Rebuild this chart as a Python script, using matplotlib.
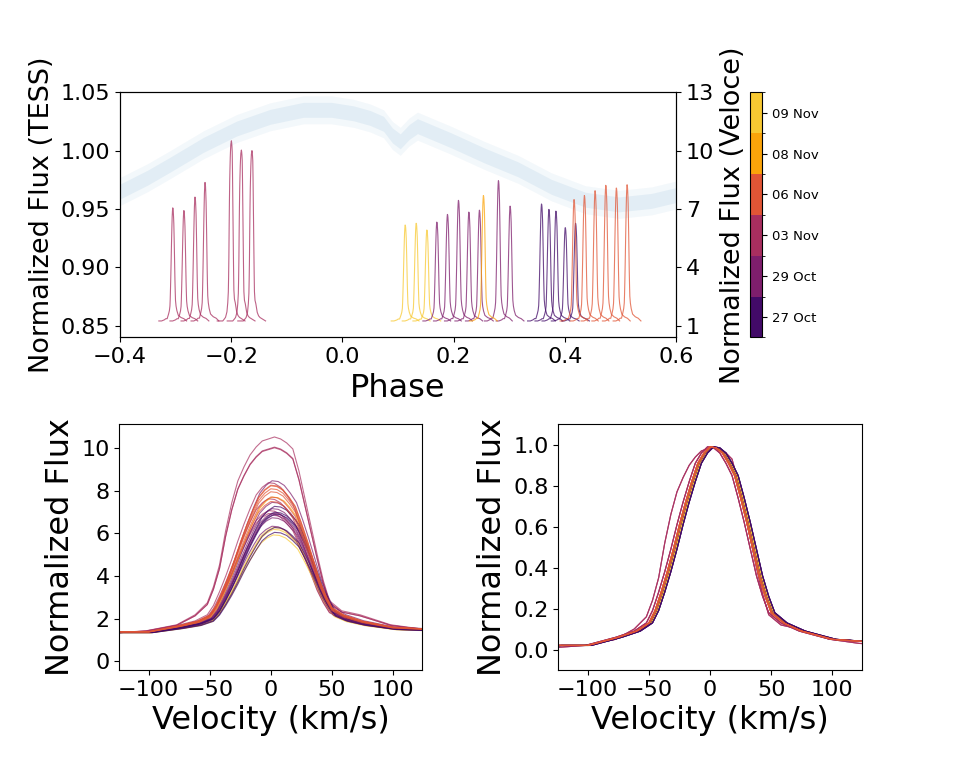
"""
TESS light curve + Veloce line profiles, phased, with date colour bar.
"""

import matplotlib

matplotlib.use("Agg")
import matplotlib.pyplot as plt
import numpy as np
from matplotlib.colors import BoundaryNorm, ListedColormap
from matplotlib.cm import ScalarMappable

# --- TESS light curve (trend + scatter) ---
tess_phase = [-0.40, -0.35, -0.31, -0.25, -0.19, -0.13, -0.07, -0.02, 0.02,
              0.05, 0.074, 0.09, 0.104, 0.12, 0.135, 0.16, 0.195, 0.255,
              0.316, 0.376, 0.437, 0.497, 0.556, 0.60]
tess_flux = [0.965, 0.977, 0.988, 1.005, 1.019, 1.029, 1.035, 1.035, 1.032,
             1.028, 1.023, 1.013, 1.008, 1.016, 1.021, 1.016, 1.009, 0.996,
             0.984, 0.969, 0.958, 0.954, 0.957, 0.962]
tess_scatter = 0.008

# --- observing dates (colour bar) ---
date_labels = ["27 Oct", "29 Oct", "03 Nov", "06 Nov", "08 Nov", "09 Nov"]
date_colors = ["#420a68", "#7e1e6c", "#a82e5f", "#e15535", "#fba40a", "#f8c932"]
date_vshift = [3, 1, -2, 0, 1, 2]  # km/s, rough line-centre offset per night

# --- individual spectra: phase, peak flux, night index ---
spec_phase = [-0.305, -0.285, -0.265, -0.247, -0.200, -0.182, -0.163,
              0.1126, 0.1324, 0.1516,
              0.1696, 0.1887, 0.2085, 0.2272, 0.2462, 0.2804, 0.3014,
              0.2534,
              0.3577, 0.3710, 0.3836, 0.4004, 0.4189,
              0.4165, 0.4351, 0.4543, 0.4736, 0.4926, 0.5119]
spec_peak = [7.12, 6.98, 7.68, 8.44, 10.60, 10.12, 10.09,
             6.23, 6.32, 5.97,
             6.38, 6.78, 7.51, 6.90, 7.00, 8.53, 7.21,
             7.76,
             7.32, 7.04, 6.95, 6.09, 6.32,
             7.55, 7.76, 8.01, 8.29, 8.15, 8.32]
spec_night = [2, 2, 2, 2, 2, 2, 2,
              5, 5, 5,
              1, 1, 1, 1, 1, 1, 1,
              4,
              0, 0, 0, 0, 0,
              3, 3, 3, 3, 3, 3]
continuum = 1.25

# --- normalised line shapes ---
vel_grid = [-250, -200, -150, -124, -100, -75, -60, -50, -45, -40, -35, -30,
            -25, -20, -15, -10, -5, 0, 5, 10, 15, 20, 25, 30, 35, 40, 45, 50,
            60, 75, 100, 124, 150, 200, 250]
shape_main = [0.0, 0.0, 0.01, 0.02, 0.02, 0.06, 0.09, 0.13, 0.19, 0.28, 0.38,
              0.49, 0.61, 0.72, 0.82, 0.91, 0.96, 0.99, 0.985, 0.96, 0.91,
              0.85, 0.74, 0.62, 0.49, 0.36, 0.26, 0.18, 0.13, 0.09, 0.05,
              0.04, 0.03, 0.02, 0.0]
shape_broad = [0.0, 0.0, 0.0, 0.01, 0.02, 0.05, 0.10, 0.16, 0.24, 0.35, 0.52,
               0.66, 0.77, 0.84, 0.90, 0.94, 0.97, 0.98, 0.99, 0.98, 0.96,
               0.93, 0.82, 0.68, 0.54, 0.40, 0.27, 0.17, 0.12, 0.10, 0.05,
               0.03, 0.02, 0.01, 0.0]

PHASE_PER_KMS = 1.0e-4

fig = plt.figure(figsize=(9.57, 7.66), dpi=100)
ax = fig.add_axes([0.1254, 0.5594, 0.581, 0.3201])
ax2 = ax.twinx()
cax = fig.add_axes([0.7837, 0.5594, 0.0129, 0.3201])
ax_bl = fig.add_axes([0.1247, 0.1253, 0.3166, 0.3208])
ax_br = fig.add_axes([0.5834, 0.1253, 0.317, 0.3208])

# TESS band
tp = np.array(tess_phase)
tf = np.array(tess_flux)
ax.fill_between(tp, tf - tess_scatter * 1.5, tf + tess_scatter * 1.5,
                color="C0", alpha=0.05, lw=0)
ax.fill_between(tp, tf - tess_scatter * 0.8, tf + tess_scatter * 0.8,
                color="C0", alpha=0.08, lw=0)

v = np.array(vel_grid, dtype=float)
for ph, pk, n in zip(spec_phase, spec_peak, spec_night):
    shape = np.array(shape_broad if pk > 9.5 else shape_main)
    vv = v + date_vshift[n]
    flux = continuum + (pk - continuum) * shape
    col = date_colors[n]
    ax2.plot(ph + vv * PHASE_PER_KMS, flux, color=col, lw=0.8, alpha=0.75)
    ax_bl.plot(vv, flux, color=col, lw=0.8, alpha=0.7)
    ax_br.plot(vv, shape, color=col, lw=0.8, alpha=0.7)

ax.set_xlim(-0.4, 0.6)
ax.set_ylim(0.84, 1.05)
ax.set_yticks([0.85, 0.90, 0.95, 1.00, 1.05])
ax2.set_ylim(0.4, 13.0)
ax2.set_yticks([1, 4, 7, 10, 13])
ax.tick_params(labelsize=16)
ax2.tick_params(labelsize=16)
ax.set_xlabel("Phase", fontsize=23)
ax.set_ylabel("Normalized Flux (TESS)", fontsize=19.5)
ax2.set_ylabel("Normalized Flux (Veloce)", fontsize=19.5)

# discrete date colour bar
cmap = ListedColormap(date_colors)
norm = BoundaryNorm(np.arange(len(date_labels) + 1), cmap.N)
cb = fig.colorbar(ScalarMappable(norm=norm, cmap=cmap), cax=cax)
cb.set_ticks(np.arange(len(date_labels)) + 0.5)
cb.set_ticklabels(date_labels)
cb.ax.tick_params(labelsize=9.5)

for a in (ax_bl, ax_br):
    a.set_xlim(-124, 124)
    a.set_xticks([-100, -50, 0, 50, 100])
    a.tick_params(labelsize=16)
    a.set_xlabel("Velocity (km/s)", fontsize=23)
    a.set_ylabel("Normalized Flux", fontsize=23)
ax_bl.set_ylim(-0.4, 11.1)
ax_bl.set_yticks([0, 2, 4, 6, 8, 10])
ax_br.set_ylim(-0.1, 1.1)
ax_br.set_yticks([0.0, 0.2, 0.4, 0.6, 0.8, 1.0])

fig.savefig("out.png", dpi=100)
plt.close(fig)
